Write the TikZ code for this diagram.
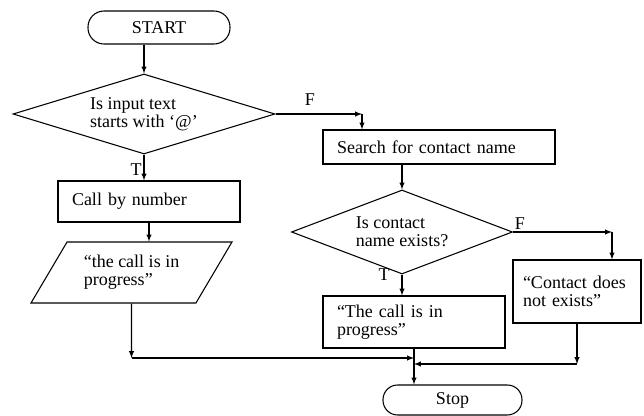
\documentclass[tikz,border=0pt]{standalone}
\usepackage{fontspec}
\setmainfont{Liberation Serif}
\usetikzlibrary{shapes.geometric,arrows}

\begin{document}
\begin{tikzpicture}[x=0.75pt,y=-0.75pt,line width=0.8pt,font=\fontsize{13.5}{13.5}\selectfont]
    \tikzstyle{terminal}=[draw,rectangle,rounded corners=12pt]
    \tikzstyle{test}=[draw,diamond,inner sep=0pt,align=left]
    \tikzstyle{bloc}=[draw,rectangle,align=left,inner xsep=10.5pt]
    \tikzstyle{affiche}=[draw,trapezium,trapezium left angle=56,trapezium right angle=124,trapezium stretches=true,align=left]
    \tikzstyle{fleche}=[->,>=latex]
    \useasboundingbox (0,0) rectangle (644,416);
    \node[terminal,minimum width=106.5pt,minimum height=24.75pt] (1) at (159,27.5) {START};
    \node[test,aspect=3.3,minimum width=196.5pt,minimum height=60pt] (2) at (144,114) {Is input text\\starts with `@'};
    \node[bloc,text width=115.5pt,minimum height=30.75pt] (3) at (149,201.5) {Call by number};
    \node[affiche,minimum width=150.75pt,minimum height=45.75pt] (4) at (131.5,272.5) {``the call is in\\progress''};
    \node[bloc,text width=153pt,minimum height=25.5pt] (5) at (439,147) {Search for contact name};
    \node[test,aspect=2.63,minimum width=165.75pt,minimum height=63pt] (6) at (402,232) {Is contact\\name exists?};
    \node[bloc,text width=115.5pt,minimum height=39pt] (7) at (414,322) {``The call is in\\progress''};
    \node[bloc,inner xsep=7.5pt,text width=81pt,minimum height=47.25pt] (8) at (577,291.5) {``Contact does\\not exists''};
    \node[terminal,rounded corners=11pt,minimum width=104.25pt,minimum height=22.5pt] (9) at (452.5,400) {Stop};
    \node (f1) at (310,100) {F};
    \node (t1) at (136,170) {T};
    \node (f2) at (520,224) {F};
    \node (t2) at (384,275) {T};
    \coordinate (a) at (362,114);
    \coordinate (b) at (612,232);
    \coordinate (m1) at (7.south |- 0,358);
    \coordinate (m2) at (7.south |- 0,364);
    \coordinate (c) at (8.south |- m2);
    \draw[fleche] (1.south -| 2.north) -- (2.north);
    \draw[fleche] (2) -- (2 |- 3.north);
    \draw[fleche] (3) -- (3 |- 4.north);
    \draw[fleche] (4) -- (4 |- m1);
    \draw[fleche] (4 |- m1) -- (m1);
    \draw[fleche] (2.east) -- (a);
    \draw[fleche] (a) -- (a |- 5.north);
    \draw[fleche] (5.south -| 6.north) -- (6.north);
    \draw[fleche] (6.east) -- (b);
    \draw[fleche] (b) -- (b |- 8.north);
    \draw[fleche] (6) -- (6 |- 7.north);
    \draw[fleche] (8) -- (c);
    \draw[fleche] (c) -- (m2);
    \draw[fleche] (7) -- (7 |- 9.north);
\end{tikzpicture}
\end{document}
